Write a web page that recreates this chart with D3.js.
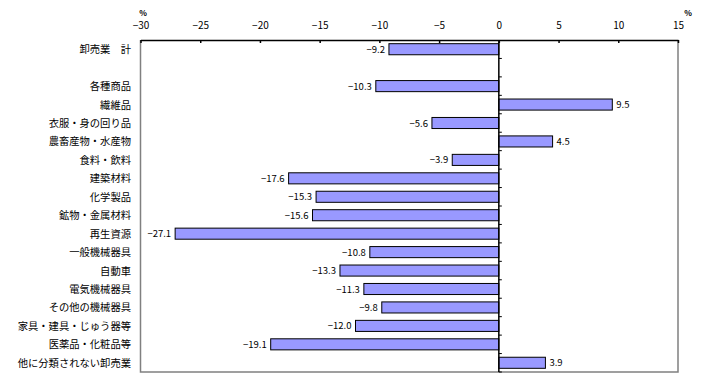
<!DOCTYPE html>
<html><head><meta charset="utf-8">
<script src="https://cdn.jsdelivr.net/npm/d3@7"></script>
<style>
body{margin:0;background:#fff;}
text{font-family:"Noto Sans CJK JP","DejaVu Sans",sans-serif;}
</style></head>
<body>
<svg id="c" width="705" height="388"></svg>
<script>
const categories = ["卸売業　計","","各種商品","繊維品","衣服・身の回り品","農畜産物・水産物","食料・飲料","建築材料","化学製品","鉱物・金属材料","再生資源","一般機械器具","自動車","電気機械器具","その他の機械器具","家具・建具・じゅう器等","医薬品・化粧品等","他に分類されない卸売業"];
const values = [-9.2,null,-10.3,9.5,-5.6,4.5,-3.9,-17.6,-15.3,-15.6,-27.1,-10.8,-13.3,-11.3,-9.8,-12.0,-19.1,3.9];
const xTicks = [-30,-25,-20,-15,-10,-5,0,5,10,15];
const unitLabel = "%";

const svg = d3.select("#c");
const L = 140.5, R = 678, T = 40, B = 372;
const x = d3.scaleLinear().domain([-30,15]).range([L,R]);
const y = d3.scaleBand().domain(d3.range(categories.length)).range([T,B]).paddingInner(0.4).paddingOuter(0.2);
const yb = d3.scaleBand().domain(d3.range(categories.length)).range([T,B]);
const fmt = v => (v<0?"−":"") + Math.abs(v).toFixed(1);

// frame: left, right, bottom gray
svg.append("path").attr("d",`M${L},${T}V${B}H${R}V${T}`).attr("fill","none").attr("stroke","#808080").attr("stroke-width",1.5);

// bars
const data = values.map((v,i)=>({v,i})).filter(d=>d.v!==null);
svg.selectAll("rect.bar").data(data).join("rect").attr("class","bar")
  .attr("x",d=>x(Math.min(0,d.v))).attr("width",d=>Math.abs(x(d.v)-x(0)))
  .attr("y",d=>y(d.i)).attr("height",y.bandwidth())
  .attr("fill","#9999FF").attr("stroke","#000").attr("stroke-width",1);

// value labels
svg.selectAll("text.val").data(data).join("text").attr("class","val")
  .attr("x",d=>d.v<0? x(d.v)-4 : x(d.v)+4)
  .attr("y",d=>y(d.i)+y.bandwidth()/2+3.5)
  .attr("text-anchor",d=>d.v<0?"end":"start")
  .attr("font-size",9.5).text(d=>fmt(d.v));

// top axis
const gx = svg.append("g").attr("transform",`translate(0,${T})`)
  .call(d3.axisTop(x).tickValues(xTicks).tickSizeInner(-3).tickSizeOuter(0).tickFormat(d=>d<0?"−"+Math.abs(d):d));
gx.select(".domain").attr("stroke","#000").attr("stroke-width",1.5);
gx.selectAll(".tick line").attr("stroke","#000").attr("stroke-width",1.5);
gx.selectAll(".tick text").attr("y",-11).attr("font-size",10).attr("fill","#000")
  .attr("font-family","\"DejaVu Sans\",sans-serif");

// zero axis with ticks
const zx = x(0);
svg.append("line").attr("x1",zx).attr("x2",zx).attr("y1",T).attr("y2",B).attr("stroke","#000").attr("stroke-width",1.5);
svg.selectAll("line.yt").data(d3.range(1,categories.length+1)).join("line").attr("class","yt")
  .attr("x1",zx).attr("x2",zx+3).attr("y1",i=>yb(i-1)+yb.bandwidth()).attr("y2",i=>yb(i-1)+yb.bandwidth())
  .attr("stroke","#000").attr("stroke-width",1);

// category labels
svg.selectAll("text.cat").data(categories).join("text").attr("class","cat")
  .attr("x",131).attr("y",(d,i)=>yb(i)+yb.bandwidth()/2+4)
  .attr("text-anchor","end").attr("font-size",10.3).attr("fill","#000").text(d=>d);

// unit labels
svg.append("text").attr("x",143).attr("y",16).attr("text-anchor","middle").attr("font-size",8).attr("font-weight","bold").text(unitLabel);
svg.append("text").attr("x",688).attr("y",16).attr("text-anchor","middle").attr("font-size",8).attr("font-weight","bold").text(unitLabel);
</script>
</body></html>
